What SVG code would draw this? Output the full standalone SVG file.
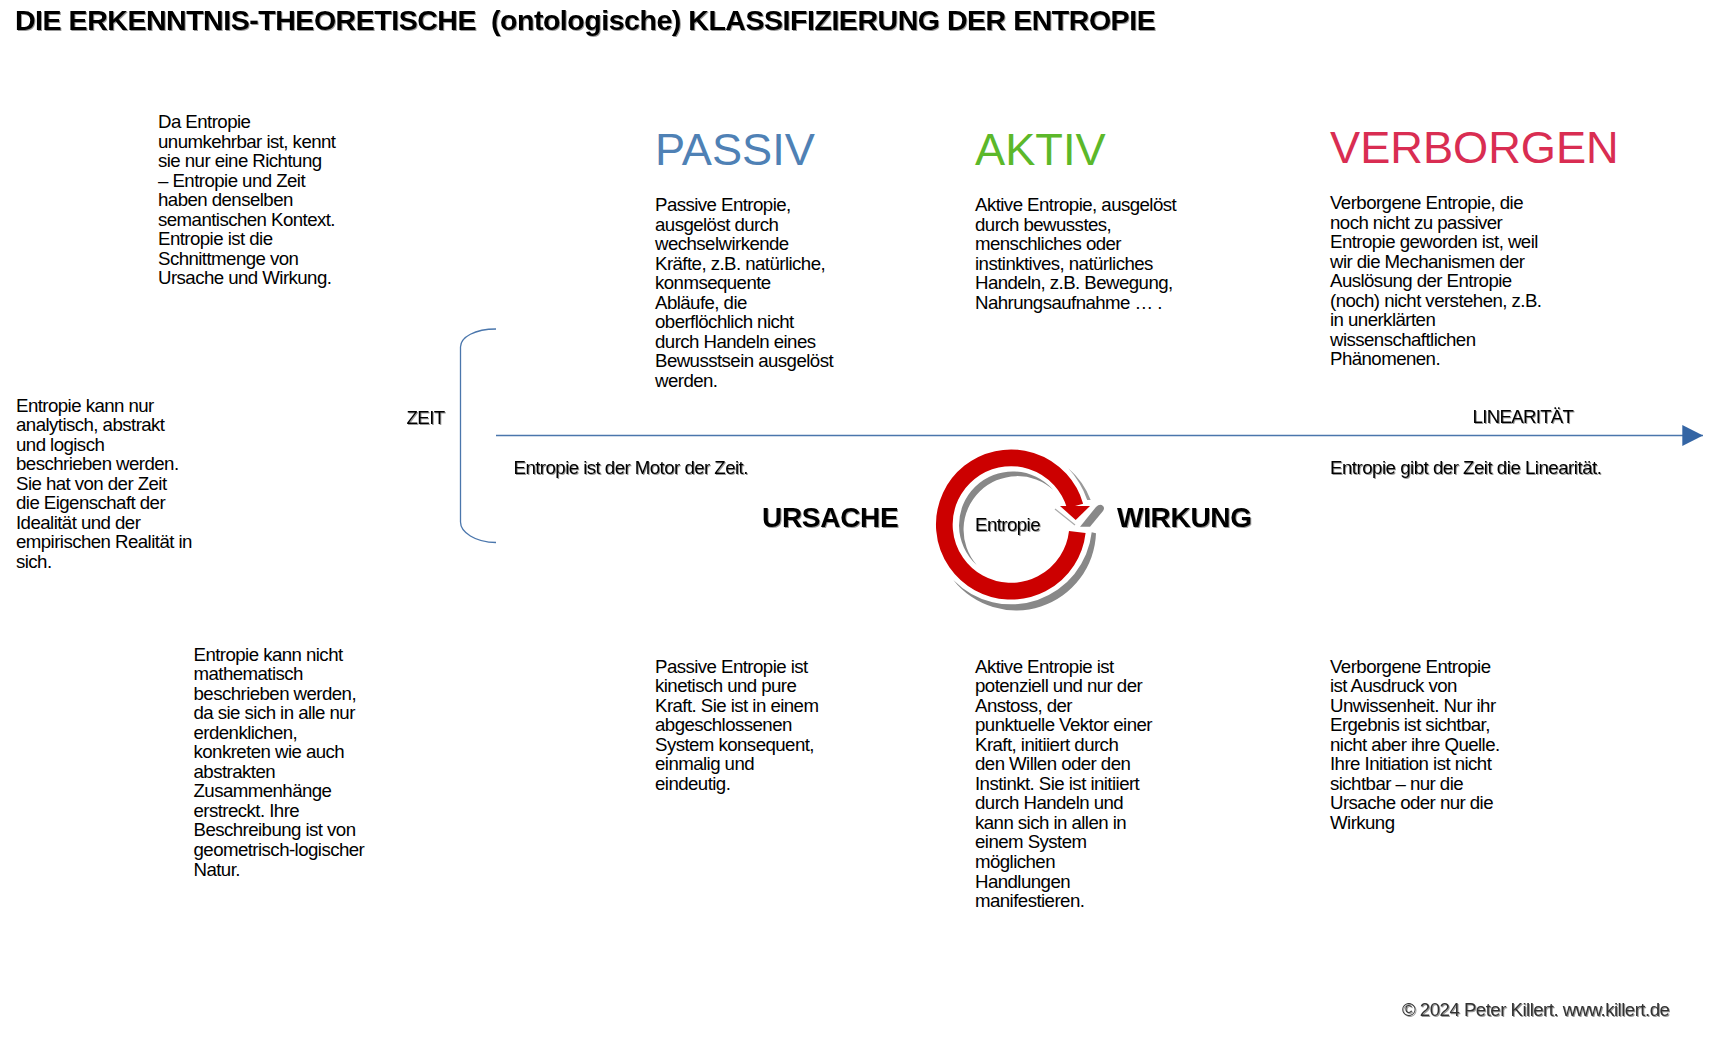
<svg xmlns="http://www.w3.org/2000/svg" width="1727" height="1039" viewBox="0 0 1727 1039">
<style>
text{font-family:"Liberation Sans",Arial,sans-serif;fill:#000}
.b{font-size:18.67px;letter-spacing:-.56px}
.h{font-size:45.2px}
.k{font-size:28px;font-weight:700;letter-spacing:-.3px}
.s{filter:url(#sh)}
.ln{fill:none;stroke:#4a76ac;stroke-width:1.3}
</style>
<defs>
<filter id="sh" x="-5%" y="-20%" width="110%" height="140%"><feDropShadow dx="1" dy="1" stdDeviation=".6" flood-color="#000" flood-opacity=".4"/></filter>
<marker id="ah" markerUnits="userSpaceOnUse" markerWidth="21" markerHeight="21" refX="20.700" refY="10.500" orient="auto"><path d="M0 0L20.700 10.500L0 21Z" fill="#3465a4"/></marker>
</defs>
<rect width="1727" height="1039" fill="#fff"/>
<g id="title"><text class="s" x="15" y="29.700" style="font-size:28.5px;font-weight:700;letter-spacing:-.46px" xml:space="preserve">DIE ERKENNTNIS-THEORETISCHE  (ontologische) KLASSIFIZIERUNG DER ENTROPIE</text></g>
<g id="connectors">
<path class="ln" d="M496 329C475 329 460.500 337 460.500 347V522C460.500 532 475 542.500 496 542.500"/>
<path class="ln" d="M496 435.500H1703" marker-end="url(#ah)"/>
</g>
<g id="note-richtung"><text class="b"><tspan x="158" y="128">Da Entropie</tspan><tspan x="158" dy="19.55">unumkehrbar ist, kennt</tspan><tspan x="158" dy="19.55">sie nur eine Richtung</tspan><tspan x="158" dy="19.55">– Entropie und Zeit</tspan><tspan x="158" dy="19.55">haben denselben</tspan><tspan x="158" dy="19.55">semantischen Kontext.</tspan><tspan x="158" dy="19.55">Entropie ist die</tspan><tspan x="158" dy="19.55">Schnittmenge von</tspan><tspan x="158" dy="19.55">Ursache und Wirkung.</tspan></text></g>
<g id="note-analytisch"><text class="b"><tspan x="16" y="411.500">Entropie kann nur</tspan><tspan x="16" dy="19.55">analytisch, abstrakt</tspan><tspan x="16" dy="19.55">und logisch</tspan><tspan x="16" dy="19.55">beschrieben werden.</tspan><tspan x="16" dy="19.55">Sie hat von der Zeit</tspan><tspan x="16" dy="19.55">die Eigenschaft der</tspan><tspan x="16" dy="19.55">Idealität und der</tspan><tspan x="16" dy="19.55">empirischen Realität in</tspan><tspan x="16" dy="19.55">sich.</tspan></text></g>
<g id="note-mathematisch"><text class="b"><tspan x="193.500" y="660.500">Entropie kann nicht</tspan><tspan x="193.500" dy="19.55">mathematisch</tspan><tspan x="193.500" dy="19.55">beschrieben werden,</tspan><tspan x="193.500" dy="19.55">da sie sich in alle nur</tspan><tspan x="193.500" dy="19.55">erdenklichen,</tspan><tspan x="193.500" dy="19.55">konkreten wie auch</tspan><tspan x="193.500" dy="19.55">abstrakten</tspan><tspan x="193.500" dy="19.55">Zusammenhänge</tspan><tspan x="193.500" dy="19.55">erstreckt. Ihre</tspan><tspan x="193.500" dy="19.55">Beschreibung ist von</tspan><tspan x="193.500" dy="19.55">geometrisch-logischer</tspan><tspan x="193.500" dy="19.55">Natur.</tspan></text></g>
<g id="zeit"><text class="b s" x="406.500" y="424">ZEIT</text></g>
<g id="linearitaet"><text class="b s" x="1472.500" y="423" style="letter-spacing:-.7px">LINEARITÄT</text></g>
<g id="passiv">
<text class="h" x="655" y="165.200" style="fill:#4f81b5">PASSIV</text>
<text class="b"><tspan x="655" y="211">Passive Entropie,</tspan><tspan x="655" dy="19.55">ausgelöst durch</tspan><tspan x="655" dy="19.55">wechselwirkende</tspan><tspan x="655" dy="19.55">Kräfte, z.B. natürliche,</tspan><tspan x="655" dy="19.55">konmsequente</tspan><tspan x="655" dy="19.55">Abläufe, die</tspan><tspan x="655" dy="19.55">oberflöchlich nicht</tspan><tspan x="655" dy="19.55">durch Handeln eines</tspan><tspan x="655" dy="19.55">Bewusstsein ausgelöst</tspan><tspan x="655" dy="19.55">werden.</tspan></text>
<text class="b"><tspan x="655" y="672.500">Passive Entropie ist</tspan><tspan x="655" dy="19.55">kinetisch und pure</tspan><tspan x="655" dy="19.55">Kraft. Sie ist in einem</tspan><tspan x="655" dy="19.55">abgeschlossenen</tspan><tspan x="655" dy="19.55">System konsequent,</tspan><tspan x="655" dy="19.55">einmalig und</tspan><tspan x="655" dy="19.55">eindeutig.</tspan></text>
</g>
<g id="aktiv">
<text class="h" x="975" y="165.200" style="fill:#5cb82a">AKTIV</text>
<text class="b"><tspan x="975" y="211">Aktive Entropie, ausgelöst</tspan><tspan x="975" dy="19.55">durch bewusstes,</tspan><tspan x="975" dy="19.55">menschliches oder</tspan><tspan x="975" dy="19.55">instinktives, natürliches</tspan><tspan x="975" dy="19.55">Handeln, z.B. Bewegung,</tspan><tspan x="975" dy="19.55">Nahrungsaufnahme … .</tspan></text>
<text class="b"><tspan x="975" y="672.500">Aktive Entropie ist</tspan><tspan x="975" dy="19.55">potenziell und nur der</tspan><tspan x="975" dy="19.55">Anstoss, der</tspan><tspan x="975" dy="19.55">punktuelle Vektor einer</tspan><tspan x="975" dy="19.55">Kraft, initiiert durch</tspan><tspan x="975" dy="19.55">den Willen oder den</tspan><tspan x="975" dy="19.55">Instinkt. Sie ist initiiert</tspan><tspan x="975" dy="19.55">durch Handeln und</tspan><tspan x="975" dy="19.55">kann sich in allen in</tspan><tspan x="975" dy="19.55">einem System</tspan><tspan x="975" dy="19.55">möglichen</tspan><tspan x="975" dy="19.55">Handlungen</tspan><tspan x="975" dy="19.55">manifestieren.</tspan></text>
</g>
<g id="verborgen">
<text class="h" x="1330" y="163" style="fill:#d92d52">VERBORGEN</text>
<text class="b"><tspan x="1330" y="209">Verborgene Entropie, die</tspan><tspan x="1330" dy="19.55">noch nicht zu passiver</tspan><tspan x="1330" dy="19.55">Entropie geworden ist, weil</tspan><tspan x="1330" dy="19.55">wir die Mechanismen der</tspan><tspan x="1330" dy="19.55">Auslösung der Entropie</tspan><tspan x="1330" dy="19.55">(noch) nicht verstehen, z.B.</tspan><tspan x="1330" dy="19.55">in unerklärten</tspan><tspan x="1330" dy="19.55">wissenschaftlichen</tspan><tspan x="1330" dy="19.55">Phänomenen.</tspan></text>
<text class="b"><tspan x="1330" y="672.500">Verborgene Entropie</tspan><tspan x="1330" dy="19.55">ist Ausdruck von</tspan><tspan x="1330" dy="19.55">Unwissenheit. Nur ihr</tspan><tspan x="1330" dy="19.55">Ergebnis ist sichtbar,</tspan><tspan x="1330" dy="19.55">nicht aber ihre Quelle.</tspan><tspan x="1330" dy="19.55">Ihre Initiation ist nicht</tspan><tspan x="1330" dy="19.55">sichtbar – nur die</tspan><tspan x="1330" dy="19.55">Ursache oder nur die</tspan><tspan x="1330" dy="19.55">Wirkung</tspan></text>
</g>
<g id="motor"><text class="b s" x="513.500" y="474" style="letter-spacing:-.55px">Entropie ist der Motor der Zeit.</text></g>
<g id="linear-satz"><text class="b s" x="1330" y="474" style="letter-spacing:-.5px">Entropie gibt der Zeit die Linearität.</text></g>
<g id="ursache"><text class="k s" x="762" y="526.500">URSACHE</text></g>
<g id="wirkung"><text class="k s" x="1117" y="526.500">WIRKUNG</text></g>
<g id="entropie">
<path d="M953.300 580A80 80 0 0 0 1096 533.300L1091.700 532.300A81 81 0 0 1 953.300 580Z" fill="#888"/>
<path d="M1068.300 468.300A80 80 0 0 1 1090.700 500L1087.200 500A90 90 0 0 0 1068.300 468.300Z" fill="#999"/>
<path d="M976.700 565A53.700 53.700 0 1 1 1053.300 490A53.700 53.700 0 0 0 976.700 565Z" fill="#888"/>
<path d="M1055 509L1075 525" fill="none" stroke="#aaa" stroke-width="1.300"/>
<path d="M1080 526.700L1096 507Q1100 503 1103 506Q1105 508 1103 511L1090 526.700Z" fill="#888"/>
<path d="M1077.300 532A66.700 66.700 0 1 1 1075.100 506" fill="none" stroke="#c00" stroke-width="16.700"/>
<path d="M1060 506L1090 506L1075.700 520Z" fill="#c00"/>
<text class="b s" x="975" y="531">Entropie</text>
</g>
<g id="copyright"><text class="b s" x="1402" y="1016" style="fill:#333;letter-spacing:-.53px">© 2024 Peter Killert. www.killert.de</text></g>
</svg>
